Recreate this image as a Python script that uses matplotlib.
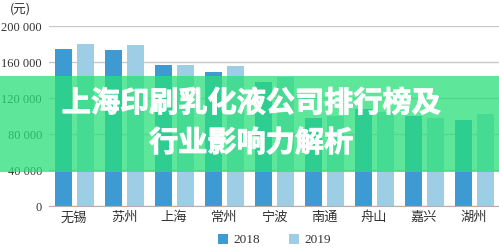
import matplotlib
matplotlib.use("Agg")
import matplotlib.pyplot as plt
import matplotlib.patheffects as pe
import numpy as np
from matplotlib.patches import Rectangle

CITIES = ["无锡", "苏州", "上海", "常州", "宁波", "南通", "舟山", "嘉兴", "湖州"]
V2018 = [174000, 173000, 157000, 149000, 138000, 98000, 108000, 100000, 95500]
V2019 = [180000, 179000, 157000, 156000, 143000, 100000, 104000, 98000, 102000]
YTICKS = [0, 40000, 80000, 120000, 160000, 200000]
YLABELS = ["0", "40 000", "80 000", "120 000", "160 000", "200 000"]
TITLE1 = "上海印刷乳化液公司排行榜及"
TITLE2 = "行业影响力解析"

C18 = "#3d9ad3"
C19 = "#9ecde6"
GRID = "#c8c8c8"
TXT = "#333333"
CJK = ["Noto Sans CJK SC", "DejaVu Sans"]
SERIF = ["Liberation Serif", "Noto Sans CJK SC"]

fig = plt.figure(figsize=(4.99, 2.48), dpi=100)
ax = fig.add_axes([0.0982, 0.169, 0.9018, 0.726])

x = np.arange(len(CITIES))
ax.bar(x - 0.21, V2018, width=0.34, color=C18, label="2018", zorder=2)
ax.bar(x + 0.22, V2019, width=0.34, color=C19, label="2019", zorder=2)

ax.set_xlim(-0.5, len(CITIES) - 0.5)
ax.set_ylim(0, 200000)
ax.set_yticks(YTICKS, YLABELS, family=SERIF, fontsize=9, color=TXT)
ax.set_xticks(x, CITIES, family=SERIF, fontsize=9.5, color=TXT)
ax.tick_params(axis="both", length=0)
ax.tick_params(axis="y", pad=5)
ax.tick_params(axis="x", pad=4)
ax.grid(axis="y", color=GRID, linewidth=1, zorder=0)
ax.set_axisbelow(True)
for s in ["top", "right", "left"]:
    ax.spines[s].set_visible(False)
ax.spines["bottom"].set_color("#b8b0a8")
ax.spines["bottom"].set_clip_on(False)

fig.text(0.04, 0.965, "(元)", family=["Noto Sans CJK SC"], fontsize=9, color=TXT,
         ha="center", va="center")

leg = fig.legend(loc="center", bbox_to_anchor=(0.55, 0.032), ncol=2, frameon=False,
                 prop={"family": SERIF, "size": 9.5}, handlelength=0.75,
                 handleheight=0.75, columnspacing=2.2, handletextpad=0.4)
for t in leg.get_texts():
    t.set_color(TXT)

# green banner overlay with title
fig.patches.append(Rectangle((0, 0.306), 1, 0.388, transform=fig.transFigure,
                             facecolor="#28e078", alpha=0.75, edgecolor="none",
                             zorder=5))
thick = [pe.withStroke(linewidth=0.7, foreground="white")]
fig.text(0.503, 0.585, TITLE1, family=CJK, fontsize=21, fontweight="heavy",
         color="white", ha="center", va="center", zorder=6, path_effects=thick)
fig.text(0.503, 0.425, TITLE2, family=CJK, fontsize=21, fontweight="heavy",
         color="white", ha="center", va="center", zorder=6, path_effects=thick)

fig.savefig("out.png", dpi=100)
